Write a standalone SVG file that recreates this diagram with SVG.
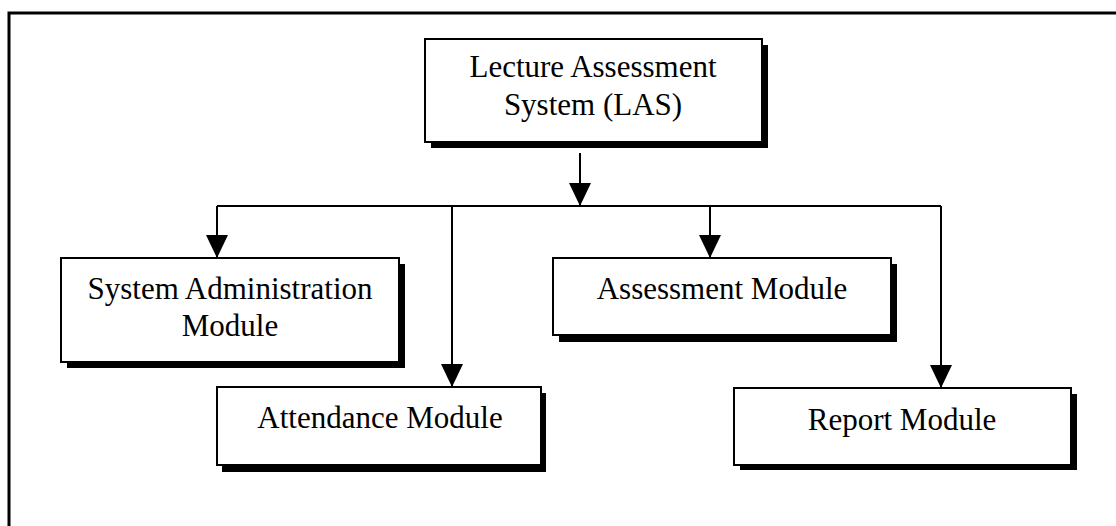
<svg xmlns="http://www.w3.org/2000/svg" width="1116" height="526" viewBox="0 0 1116 526">
<defs>
<style>
.box{fill:#fff;stroke:#000;stroke-width:2}
.shadow{fill:#000}
.lbl{font-family:"Liberation Serif","Times New Roman",serif;font-size:31px;fill:#000;text-anchor:middle}
.conn{fill:none;stroke:#000;stroke-width:2}
</style>
<marker id="arrow" markerUnits="userSpaceOnUse" markerWidth="24" markerHeight="24" refX="23" refY="11" orient="auto">
<path d="M0,0 L23,11 L0,22 Z" fill="#000"/>
</marker>
</defs>
<rect width="1116" height="526" fill="#fff"/>
<g id="frame">
<path d="M9,526 V13 H1116" fill="none" stroke="#000" stroke-width="3"/>
</g>
<g id="connectors">
<path class="conn" d="M580,153 V206" marker-end="url(#arrow)"/>
<path class="conn" d="M217,206 H941"/>
<path class="conn" d="M217,206 V258" marker-end="url(#arrow)"/>
<path class="conn" d="M452,206 V387" marker-end="url(#arrow)"/>
<path class="conn" d="M710,206 V258" marker-end="url(#arrow)"/>
<path class="conn" d="M941,206 V388" marker-end="url(#arrow)"/>
</g>
<g id="las">
<rect class="shadow" x="431" y="45" width="337" height="103"/>
<rect class="box" x="425" y="39" width="337" height="103"/>
<text class="lbl" x="593" y="77">Lecture Assessment</text>
<text class="lbl" x="593" y="115">System (LAS)</text>
</g>
<g id="sysadmin">
<rect class="shadow" x="67" y="264" width="338" height="104"/>
<rect class="box" x="61" y="258" width="338" height="104"/>
<text class="lbl" x="230" y="299">System Administration</text>
<text class="lbl" x="230" y="336">Module</text>
</g>
<g id="attendance">
<rect class="shadow" x="222" y="393" width="324" height="79"/>
<rect class="box" x="217" y="387" width="324" height="78"/>
<text class="lbl" x="380" y="428">Attendance Module</text>
</g>
<g id="assessment">
<rect class="shadow" x="559" y="264" width="338" height="78"/>
<rect class="box" x="553" y="258" width="338" height="77"/>
<text class="lbl" x="722" y="299">Assessment Module</text>
</g>
<g id="report">
<rect class="shadow" x="740" y="394" width="337" height="76"/>
<rect class="box" x="734" y="388" width="337" height="77"/>
<text class="lbl" x="902" y="430">Report Module</text>
</g>
</svg>
